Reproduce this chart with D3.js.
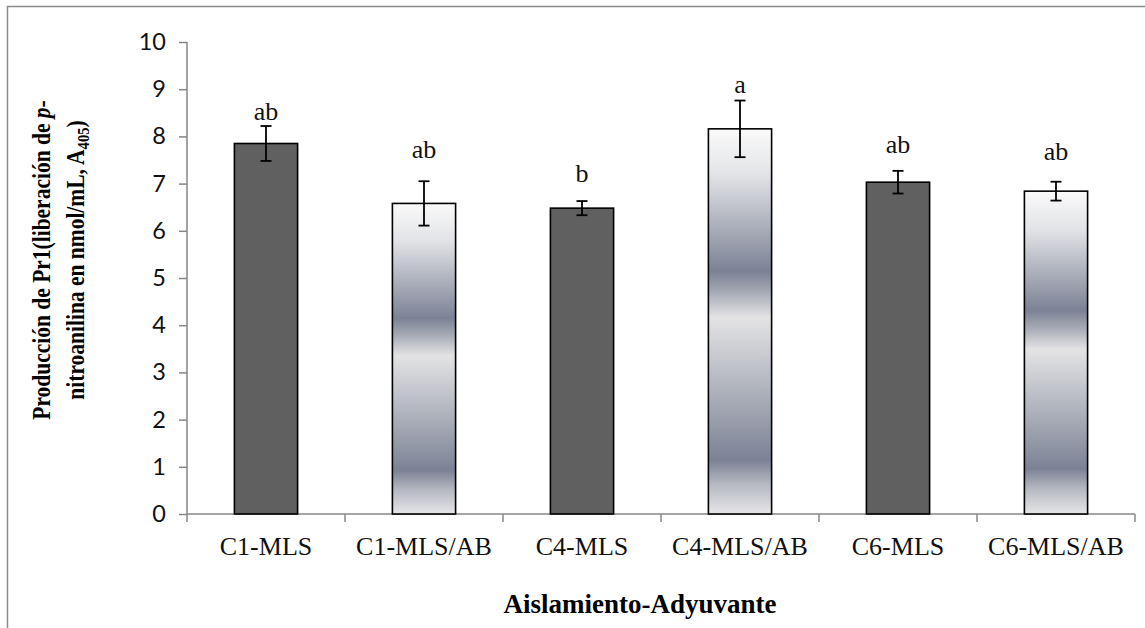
<!DOCTYPE html>
<html>
<head>
<meta charset="utf-8">
<script src="https://cdn.jsdelivr.net/npm/d3@7"></script>
<style>
  html, body { margin: 0; padding: 0; background: #fff; }
  svg { display: block; }
</style>
</head>
<body>
<svg id="chart" width="1145" height="628"></svg>
<script>
// Pr1 production per isolate / adjuvant combination
const categories = ["C1-MLS", "C1-MLS/AB", "C4-MLS", "C4-MLS/AB", "C6-MLS", "C6-MLS/AB"];
const means      = [7.85, 6.58, 6.48, 8.16, 7.03, 6.84];
const errors     = [0.37, 0.47, 0.15, 0.60, 0.24, 0.20];
const letters    = ["ab", "ab", "b", "a", "ab", "ab"];
const letterAt   = [8.35, 7.54, 7.04, 8.91, 7.65, 7.51];   // height (axis units) of each significance letter
const withAdjuvant = [false, true, false, true, false, true];
const yTicks     = [0, 1, 2, 3, 4, 5, 6, 7, 8, 9, 10];

const svg = d3.select("#chart");

// chart frame
svg.append("rect")
  .attr("x", 7.5).attr("y", 6.5)
  .attr("width", 1160).attr("height", 640)
  .attr("fill", "none").attr("stroke", "#8c8c8c").attr("stroke-width", 1.5);

const x = d3.scaleBand().domain(categories).range([187, 1135]).padding(0);
const y = d3.scaleLinear().domain([0, 10]).range([514, 42]);
const barW = x.bandwidth() * 0.4;

// vertical banded fill for the adjuvant bars
const defs = svg.append("defs");
const grad = defs.append("linearGradient")
  .attr("id", "band").attr("x1", 0).attr("y1", 0).attr("x2", 0).attr("y2", 1);
[[0, "#fafafa"], [0.12, "#e2e3e6"], [0.37, "#7c8295"], [0.42, "#a3a7b3"],
 [0.49, "#e3e3e4"], [0.70, "#a9adb8"], [0.86, "#7c8295"], [0.92, "#b4b7c0"], [1, "#e6e6e7"]]
  .forEach(([o, c]) => grad.append("stop").attr("offset", o).attr("stop-color", c));

// y axis
const yAxis = svg.append("g")
  .attr("transform", "translate(187,0)")
  .call(d3.axisLeft(y).tickValues(yTicks).tickSize(8).tickPadding(13).tickFormat(d3.format("d")));
yAxis.select(".domain").attr("stroke", "#878787").attr("stroke-width", 1.5).attr("d", "M0,42V514");
yAxis.selectAll(".tick line").attr("stroke", "#878787").attr("stroke-width", 1.5);
yAxis.selectAll(".tick text")
  .attr("font-family", "Lato, 'Open Sans', sans-serif").attr("font-size", 23.5).attr("fill", "#111");

// x axis with ticks on category boundaries
const xAxis = svg.append("g")
  .attr("transform", "translate(0,514)")
  .call(d3.axisBottom(x).tickSize(0).tickPadding(23));
xAxis.select(".domain").attr("stroke", "#878787").attr("stroke-width", 1.5).attr("d", "M187,0H1135");
xAxis.selectAll(".tick text")
  .attr("font-family", "'Liberation Serif', 'Times New Roman', serif").attr("font-size", 26).attr("fill", "#111");
const bounds = categories.map(c => x(c)).concat([x.range()[1]]);
xAxis.selectAll("line.sep").data(bounds).join("line")
  .attr("class", "sep")
  .attr("x1", d => d).attr("x2", d => d).attr("y1", 0).attr("y2", 8)
  .attr("stroke", "#878787").attr("stroke-width", 1.5);

// bars
const data = categories.map((c, i) => ({
  c, v: means[i], e: errors[i], letter: letters[i], ly: letterAt[i], adj: withAdjuvant[i]
}));

svg.append("g").selectAll("rect").data(data).join("rect")
  .attr("x", d => x(d.c) + (x.bandwidth() - barW) / 2)
  .attr("y", d => y(d.v))
  .attr("width", barW)
  .attr("height", d => y(0) - y(d.v))
  .attr("fill", d => d.adj ? "url(#band)" : "#606060")
  .attr("stroke", "#000").attr("stroke-width", 1.6);

// error bars
const eb = svg.append("g").attr("stroke", "#000").attr("stroke-width", 1.8);
data.forEach(d => {
  const cx = x(d.c) + x.bandwidth() / 2;
  eb.append("line").attr("x1", cx).attr("x2", cx).attr("y1", y(d.v + d.e)).attr("y2", y(d.v - d.e));
  eb.append("line").attr("x1", cx - 5.5).attr("x2", cx + 5.5).attr("y1", y(d.v + d.e)).attr("y2", y(d.v + d.e));
  eb.append("line").attr("x1", cx - 5.5).attr("x2", cx + 5.5).attr("y1", y(d.v - d.e)).attr("y2", y(d.v - d.e));
});

// significance letters
svg.append("g").selectAll("text").data(data).join("text")
  .attr("x", d => x(d.c) + x.bandwidth() / 2)
  .attr("y", d => y(d.ly))
  .attr("text-anchor", "middle")
  .attr("font-family", "'Liberation Serif', 'Times New Roman', serif")
  .attr("font-size", 26).attr("fill", "#111")
  .text(d => d.letter);

// x title
svg.append("text")
  .attr("x", 640).attr("y", 613)
  .attr("text-anchor", "middle")
  .attr("font-family", "'Liberation Serif', 'Times New Roman', serif")
  .attr("font-size", 27).attr("font-weight", "bold").attr("fill", "#000")
  .text("Aislamiento-Adyuvante");

// y title (two lines, rotated, slightly condensed)
const yt = svg.append("g")
  .attr("transform", "translate(0,260) rotate(-90) scale(0.86,1)")
  .attr("font-family", "'Liberation Serif', 'Times New Roman', serif")
  .attr("font-size", 25).attr("font-weight", "bold").attr("fill", "#000")
  .attr("text-anchor", "middle");
const l1 = yt.append("text").attr("x", 0).attr("y", 50);
l1.append("tspan").text("Producción de Pr1(liberación de ");
l1.append("tspan").attr("font-style", "italic").text("p");
l1.append("tspan").text("-");
const l2 = yt.append("text").attr("x", 0).attr("y", 84);
l2.append("tspan").text("nitroanilina en nmol/mL, A");
l2.append("tspan").attr("font-size", 17).attr("dy", 5).text("405");
l2.append("tspan").attr("dy", -5).text(")");
</script>
</body>
</html>
